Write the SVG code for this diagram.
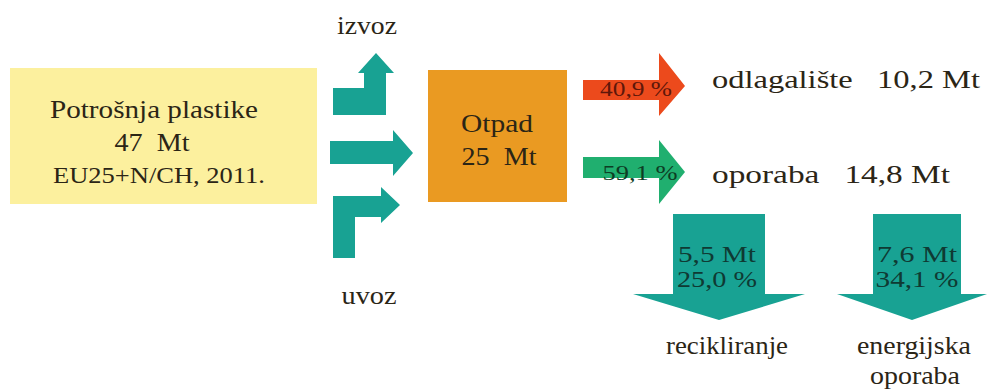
<svg xmlns="http://www.w3.org/2000/svg" width="987" height="390" viewBox="0 0 987 390">
<style>
text{fill:#2b2516}
.t{font-size:25px}
.s{font-size:23px}
.teal{fill:#18a293}
.w{fill:#0f3a33}
</style>
<rect width="987" height="390" fill="#ffffff"/>
<g font-family="'Liberation Serif', serif">
<g id="potrosnja">
<rect x="10" y="68" width="307" height="136" fill="#fcf09e"/>
<text class="t" x="154" y="118" text-anchor="middle" textLength="208" lengthAdjust="spacingAndGlyphs">Potrošnja plastike</text>
<text class="t" x="152" y="151" text-anchor="middle" textLength="75" lengthAdjust="spacingAndGlyphs" xml:space="preserve">47  Mt</text>
<text class="s" x="159" y="183" text-anchor="middle" textLength="212" lengthAdjust="spacingAndGlyphs">EU25+N/CH, 2011.</text>
</g>
<g id="otpad">
<rect x="428" y="70" width="139" height="132" fill="#ea9a22"/>
<text x="497" y="132" text-anchor="middle" textLength="72" lengthAdjust="spacingAndGlyphs" font-size="26">Otpad</text>
<text x="499" y="165" text-anchor="middle" textLength="75" lengthAdjust="spacingAndGlyphs" font-size="26" xml:space="preserve">25  Mt</text>
</g>
<g id="izvoz">
<text class="t" x="367" y="34" text-anchor="middle" textLength="60" lengthAdjust="spacingAndGlyphs">izvoz</text>
</g>
<g id="uvoz">
<text class="t" x="369" y="304" text-anchor="middle" textLength="55" lengthAdjust="spacingAndGlyphs">uvoz</text>
</g>
<g id="odlagaliste">
<text class="t" x="712" y="88" textLength="268" lengthAdjust="spacingAndGlyphs" xml:space="preserve">odlagalište   10,2 Mt</text>
</g>
<g id="oporaba">
<text class="t" x="712" y="183" textLength="238" lengthAdjust="spacingAndGlyphs" xml:space="preserve">oporaba   14,8 Mt</text>
</g>
<g id="recikliranje">
<text class="t" x="727" y="354" text-anchor="middle" textLength="122" lengthAdjust="spacingAndGlyphs">recikliranje</text>
</g>
<g id="energijska">
<text class="t" x="914" y="354" text-anchor="middle" textLength="114" lengthAdjust="spacingAndGlyphs">energijska</text>
<text class="t" x="915" y="384" text-anchor="middle" textLength="90" lengthAdjust="spacingAndGlyphs">oporaba</text>
</g>
<g id="connectors">
<path class="teal" d="M333 88 H364 V73 H358 L376 53 L394 73 H386 V115 H333 Z"/>
<path class="teal" d="M330 141 H393 V130 L413 153 L393 176 V164 H330 Z"/>
<path class="teal" d="M333 196 H381 V187 L400 205 L381 223 V217 H355 V258 H333 Z"/>
<path fill="#ec4a1c" d="M583 80 H659 V53 L685 86 L659 116 V100 H583 Z"/>
<text x="636" y="96" text-anchor="middle" font-size="22" textLength="72" lengthAdjust="spacingAndGlyphs" style="fill:#5e170a">40,9 %</text>
<path fill="#20af6f" d="M583 157 H659 V140 L685 172 L659 204 V178 H583 Z"/>
<text x="640" y="180" text-anchor="middle" font-size="22" textLength="75" lengthAdjust="spacingAndGlyphs" style="fill:#0d3d24">59,1 %</text>
<path class="teal" d="M673 214 H765 V294 H805 L719 320 L633 294 H673 Z"/>
<text class="w" x="717" y="262" text-anchor="middle" font-size="23" textLength="78" lengthAdjust="spacingAndGlyphs">5,5 Mt</text>
<text class="w" x="717" y="287" text-anchor="middle" font-size="23" textLength="80" lengthAdjust="spacingAndGlyphs">25,0 %</text>
<path class="teal" d="M873 214 H961 V294 H987 L912 320 L837 294 H873 Z"/>
<text class="w" x="917" y="262" text-anchor="middle" font-size="23" textLength="80" lengthAdjust="spacingAndGlyphs">7,6 Mt</text>
<text class="w" x="917" y="287" text-anchor="middle" font-size="23" textLength="83" lengthAdjust="spacingAndGlyphs">34,1 %</text>
</g>
</g>
</svg>
